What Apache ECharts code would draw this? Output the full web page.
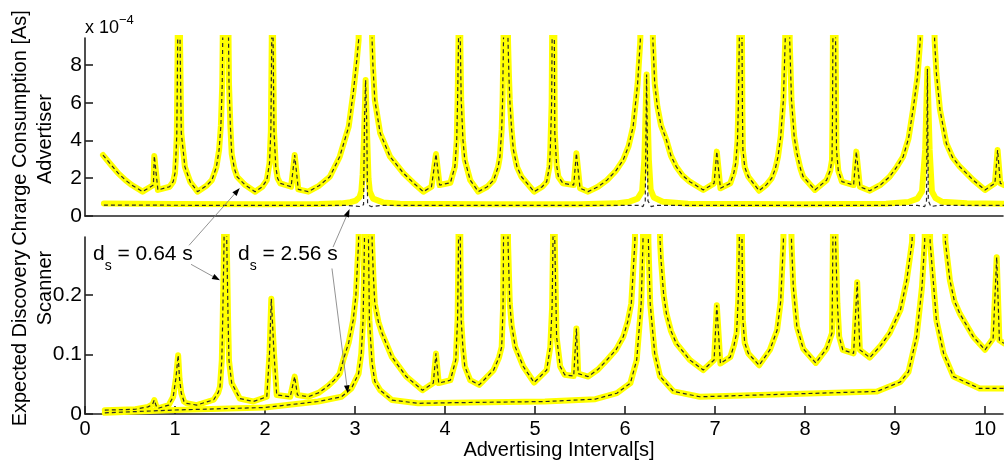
<!DOCTYPE html>
<html><head><meta charset="utf-8">
<script src="https://cdn.jsdelivr.net/npm/echarts@6/dist/echarts.min.js"></script>
<style>html,body{margin:0;padding:0;background:#fff}#c{width:1004px;height:460px}</style>
</head><body><div id="c"></div>
<script>
// ---- tick labels ----
const xTicks = [0,1,2,3,4,5,6,7,8,9,10];
const advYTicks = [0,2,4,6,8];          // units of 1e-4 As
const scanYTicks = [0,0.1,0.2];

// ---- Advertiser charge consumption (x: advertising interval [s], y: 1e-4 As) ----
const adv064 = [[0.20,3.23],[0.30,2.65],[0.37,2.26],[0.45,1.9],[0.52,1.64],[0.64,1.29],[0.76,1.64],[0.77,3.18],[0.81,1.38],[0.94,1.55],[0.98,1.82],[1.00,2.27],[1.01,3.14],[1.02,4.3],[1.03,9.3],[1.042,30],[1.056,9.3],[1.07,4.4],[1.11,2.6],[1.17,1.8],[1.25,1.29],[1.35,1.6],[1.41,1.9],[1.46,2.6],[1.49,3.5],[1.51,4.8],[1.525,7.0],[1.53,9.3],[1.5625,40],[1.595,9.3],[1.60,7.0],[1.615,4.8],[1.63,3.3],[1.66,2.5],[1.69,2.08],[1.78,1.64],[1.89,1.29],[1.97,1.55],[2.02,1.9],[2.05,2.8],[2.065,4.5],[2.075,9.3],[2.083,30],[2.09,9.3],[2.10,4.5],[2.12,2.6],[2.14,2.0],[2.17,1.73],[2.29,1.55],[2.33,3.23],[2.37,1.41],[2.48,1.29],[2.60,1.6],[2.72,2.08],[2.83,3.14],[2.93,4.73],[2.98,6.5],[3.02,8.26],[3.04,9.3],[3.125,60],[3.19,9.3],[3.20,7.9],[3.22,6.15],[3.28,4.38],[3.39,3.14],[3.54,2.26],[3.65,1.75],[3.76,1.29],[3.85,1.55],[3.90,3.28],[3.94,1.64],[4.06,1.76],[4.11,2.61],[4.13,4.0],[4.14,6.15],[4.15,9.3],[4.167,30],[4.17,9.3],[4.18,6.15],[4.20,4.0],[4.22,2.97],[4.28,1.9],[4.37,1.29],[4.47,1.55],[4.54,1.9],[4.59,2.6],[4.61,3.14],[4.63,4.6],[4.64,6.15],[4.65,9.3],[4.6875,40],[4.70,9.3],[4.71,7.5],[4.72,6.15],[4.74,4.6],[4.76,3.5],[4.80,2.6],[4.85,2.08],[4.99,1.29],[5.08,1.55],[5.13,1.82],[5.16,2.6],[5.17,3.5],[5.185,6.0],[5.19,9.3],[5.208,30],[5.215,9.3],[5.22,4.4],[5.24,2.7],[5.26,2.08],[5.31,1.73],[5.43,1.64],[5.46,3.32],[5.50,1.47],[5.59,1.29],[5.70,1.55],[5.80,1.9],[5.90,2.4],[5.98,2.97],[6.04,3.7],[6.09,4.73],[6.14,7.0],[6.17,9.3],[6.25,60],[6.31,9.3],[6.33,7.03],[6.36,5.8],[6.40,4.8],[6.46,4.03],[6.51,3.2],[6.57,2.61],[6.64,2.15],[6.72,1.82],[6.87,1.38],[6.99,1.73],[7.02,3.41],[7.06,1.47],[7.17,1.73],[7.21,2.3],[7.23,2.79],[7.25,4.0],[7.26,6.0],[7.27,9.3],[7.29,30],[7.30,9.3],[7.305,5.5],[7.31,3.5],[7.33,2.6],[7.37,2.08],[7.49,1.34],[7.57,1.65],[7.63,2.0],[7.67,2.5],[7.70,3.14],[7.73,4.2],[7.76,6.15],[7.78,9.3],[7.8125,40],[7.83,9.3],[7.85,6.15],[7.88,4.2],[7.91,3.32],[7.95,2.5],[7.98,2.08],[8.11,1.38],[8.24,1.9],[8.28,2.4],[8.30,2.97],[8.305,5.0],[8.31,9.3],[8.333,30],[8.34,9.3],[8.35,3.5],[8.37,2.4],[8.41,1.82],[8.54,1.64],[8.57,3.41],[8.61,1.55],[8.72,1.34],[8.84,1.65],[8.94,2.08],[9.02,2.6],[9.09,3.14],[9.15,4.1],[9.20,5.62],[9.25,7.38],[9.28,9.3],[9.375,60],[9.44,9.3],[9.46,7.56],[9.50,5.62],[9.57,3.85],[9.64,3.1],[9.72,2.61],[9.87,1.9],[10.0,1.38],[10.11,1.73],[10.14,3.5],[10.17,1.73],[10.21,1.64]];
const adv256 = [[0.21,0.66],[1.0,0.64],[2.0,0.62],[2.6,0.63],[2.85,0.67],[2.95,0.73],[3.01,0.82],[3.05,1.0],[3.07,1.3],[3.085,2.2],[3.1,4.2],[3.118,7.2],[3.135,4.2],[3.15,2.0],[3.165,1.3],[3.2,0.92],[3.31,0.72],[3.5,0.65],[4.5,0.62],[5.5,0.62],[5.9,0.67],[6.05,0.76],[6.14,0.92],[6.19,1.3],[6.215,3.0],[6.24,7.5],[6.265,3.0],[6.285,1.4],[6.32,0.98],[6.42,0.76],[6.7,0.65],[8.0,0.62],[8.9,0.65],[9.15,0.74],[9.25,0.92],[9.3,1.3],[9.335,3.5],[9.36,7.8],[9.385,3.5],[9.41,1.3],[9.45,0.95],[9.52,0.76],[9.8,0.67],[10.21,0.65]];
const adv256Model = [[0.21,0.58],[1.0,0.57],[2.0,0.56],[2.9,0.56],[3.06,0.5],[3.095,0.6],[3.105,5.0],[3.118,7.2],[3.13,5.0],[3.14,0.6],[3.18,0.5],[3.3,0.56],[5.0,0.56],[6.15,0.56],[6.2,0.5],[6.225,0.8],[6.24,7.5],[6.255,0.8],[6.29,0.5],[6.35,0.56],[9.25,0.56],[9.33,0.5],[9.35,0.8],[9.36,7.8],[9.37,0.8],[9.4,0.5],[9.47,0.56],[10.21,0.56]];

// ---- Scanner expected discovery charge (x: advertising interval [s], y: As) ----
const scan064 = [[0.22,0.0065],[0.56,0.008],[0.70,0.012],[0.75,0.016],[0.77,0.0235],[0.79,0.014],[0.81,0.0095],[0.93,0.015],[0.98,0.029],[1.01,0.06],[1.035,0.099],[1.05,0.06],[1.07,0.035],[1.10,0.021],[1.13,0.018],[1.24,0.015],[1.43,0.024],[1.48,0.036],[1.50,0.046],[1.52,0.09],[1.53,0.158],[1.545,0.29],[1.5625,1.2],[1.575,0.29],[1.59,0.158],[1.60,0.09],[1.63,0.052],[1.72,0.026],[1.87,0.021],[2.02,0.029],[2.05,0.102],[2.07,0.194],[2.10,0.102],[2.13,0.032],[2.28,0.029],[2.33,0.063],[2.36,0.032],[2.48,0.029],[2.60,0.036],[2.69,0.046],[2.77,0.057],[2.83,0.068],[2.87,0.091],[2.93,0.12],[2.98,0.158],[3.01,0.2],[3.04,0.29],[3.125,2.0],[3.19,0.29],[3.205,0.23],[3.22,0.186],[3.26,0.155],[3.30,0.136],[3.41,0.096],[3.57,0.063],[3.75,0.040],[3.87,0.052],[3.90,0.102],[3.93,0.052],[4.06,0.057],[4.12,0.091],[4.14,0.16],[4.15,0.29],[4.167,1.0],[4.17,0.29],[4.18,0.158],[4.20,0.11],[4.22,0.080],[4.28,0.057],[4.38,0.049],[4.54,0.074],[4.60,0.095],[4.63,0.113],[4.645,0.18],[4.65,0.29],[4.6875,1.5],[4.70,0.29],[4.72,0.186],[4.74,0.15],[4.78,0.113],[4.87,0.080],[4.99,0.053],[5.13,0.074],[5.17,0.113],[5.19,0.18],[5.20,0.29],[5.208,1.0],[5.22,0.29],[5.24,0.130],[5.28,0.080],[5.33,0.066],[5.43,0.064],[5.46,0.144],[5.48,0.068],[5.59,0.063],[5.70,0.075],[5.80,0.091],[5.90,0.108],[5.98,0.130],[6.03,0.155],[6.07,0.186],[6.11,0.29],[6.25,2.0],[6.39,0.29],[6.40,0.26],[6.43,0.2],[6.46,0.169],[6.51,0.14],[6.57,0.119],[6.72,0.091],[6.87,0.074],[6.99,0.091],[7.02,0.183],[7.06,0.085],[7.17,0.096],[7.21,0.115],[7.24,0.136],[7.26,0.2],[7.27,0.29],[7.29,1.0],[7.30,0.29],[7.31,0.158],[7.33,0.12],[7.37,0.102],[7.49,0.082],[7.61,0.108],[7.69,0.141],[7.73,0.19],[7.76,0.29],[7.8125,1.5],[7.85,0.29],[7.87,0.214],[7.91,0.147],[7.98,0.110],[8.12,0.086],[8.24,0.110],[8.30,0.136],[8.31,0.29],[8.333,1.0],[8.34,0.29],[8.36,0.186],[8.38,0.13],[8.42,0.108],[8.54,0.102],[8.58,0.222],[8.61,0.108],[8.72,0.095],[8.84,0.115],[8.94,0.136],[9.06,0.175],[9.13,0.225],[9.19,0.29],[9.375,2.0],[9.56,0.29],[9.61,0.225],[9.66,0.19],[9.72,0.169],[9.87,0.130],[10.0,0.108],[10.09,0.127],[10.13,0.264],[10.16,0.124],[10.21,0.119]];
const scan256 = [[0.22,0.002],[1.0,0.0067],[2.0,0.011],[2.59,0.021],[2.85,0.029],[2.96,0.043],[3.04,0.068],[3.07,0.102],[3.09,0.158],[3.105,0.29],[3.13,1.5],[3.15,0.29],[3.16,0.158],[3.19,0.085],[3.22,0.055],[3.28,0.040],[3.41,0.0235],[3.7,0.018],[4.07,0.019],[5.11,0.021],[5.67,0.025],[5.91,0.035],[6.06,0.052],[6.13,0.091],[6.18,0.186],[6.20,0.29],[6.23,1.5],[6.26,0.29],[6.28,0.186],[6.33,0.102],[6.39,0.063],[6.54,0.038],[6.83,0.029],[8.80,0.038],[9.06,0.054],[9.15,0.071],[9.24,0.130],[9.30,0.214],[9.33,0.29],[9.36,1.5],[9.39,0.29],[9.46,0.158],[9.54,0.102],[9.65,0.063],[9.94,0.043],[10.21,0.043]];

const FONT = '"Liberation Sans", Arial, Helvetica, sans-serif';
const YEL = '#ffff00', DASH = '#2a2a2a';

function pair(simData, modelData, gi) {
  return [
    {type:'line', xAxisIndex:gi, yAxisIndex:gi, data:simData, showSymbol:false, symbol:'none', silent:true,
     lineStyle:{color:YEL, width:6, join:'round', cap:'round'}, z:2},
    {type:'line', xAxisIndex:gi, yAxisIndex:gi, data:modelData, showSymbol:false, symbol:'none', silent:true,
     lineStyle:{color:DASH, width:1.2, type:[4,3]}, z:3}
  ];
}

const axisLineStyle = {color:'#222', width:1.6};
const labelStyle = {color:'#000', fontSize:20, fontFamily:FONT};

const chart = echarts.init(document.getElementById('c'), null, {renderer:'canvas'});
chart.setOption({
  animation:false,
  backgroundColor:'#fff',
  grid:[
    {left:85, top:38, width:918, height:178},
    {left:85, top:237, width:918, height:177}
  ],
  xAxis:[
    {type:'value', gridIndex:0, min:0, max:10.2, axisLine:{show:true, lineStyle:axisLineStyle},
     axisTick:{show:false}, axisLabel:{show:false}, splitLine:{show:false}},
    {type:'value', gridIndex:1, min:0, max:10.2, axisLine:{show:true, lineStyle:axisLineStyle},
     axisTick:{show:true, inside:true, length:8, lineStyle:axisLineStyle, customValues:xTicks},
     axisLabel:Object.assign({margin:5, customValues:xTicks}, labelStyle), splitLine:{show:false}}
  ],
  yAxis:[
    {type:'value', gridIndex:0, min:0, max:9.43, axisLine:{show:true, lineStyle:axisLineStyle},
     axisTick:{show:true, inside:true, length:8, lineStyle:axisLineStyle, customValues:advYTicks},
     axisLabel:Object.assign({margin:3, customValues:advYTicks}, labelStyle, {fontSize:21}), splitLine:{show:false}},
    {type:'value', gridIndex:1, min:0, max:0.298, axisLine:{show:true, lineStyle:axisLineStyle},
     axisTick:{show:true, inside:true, length:8, lineStyle:axisLineStyle, customValues:scanYTicks},
     axisLabel:Object.assign({margin:3, customValues:scanYTicks}, labelStyle, {fontSize:21}), splitLine:{show:false}}
  ],
  series:[].concat(pair(adv064, adv064, 0), pair(adv256, adv256Model, 0),
                   pair(scan064, scan064, 1), pair(scan256, scan256, 1))
});

// ---- annotations (anchors in data coordinates of each panel) ----
function px(g, p){ return chart.convertToPixel({gridIndex:g}, p); }
const notes = [
  {txt:'0.64', at:[1,[0.089,0.266]], arrows:[[[1,[1.156,0.284]],[0,[1.72,1.48]]],[[1,[1.178,0.252]],[1,[1.50,0.225]]]]},
  {txt:'2.56', at:[1,[1.70,0.266]], arrows:[[[1,[2.756,0.281]],[0,[2.94,0.37]]],[[1,[2.744,0.245]],[1,[2.92,0.035]]]]}
];
const g = [];
notes.forEach(n => {
  const p = px(n.at[0], n.at[1]);
  g.push({type:'text', x:p[0], y:p[1]-12, z:10, style:{
    text:'{m|d}{sub|s}{m| = '+n.txt+' s}', fill:'#000', align:'left', verticalAlign:'top',
    rich:{m:{fontSize:21, fontFamily:FONT, lineHeight:24, verticalAlign:'top', fill:'#000'},
          sub:{fontSize:14, fontFamily:FONT, lineHeight:16, verticalAlign:'top', padding:[15,0,0,0], fill:'#000'}}}});
  n.arrows.forEach(a => {
    const s = px(a[0][0], a[0][1]), e = px(a[1][0], a[1][1]);
    const dx = e[0]-s[0], dy = e[1]-s[1], L = Math.hypot(dx,dy), ux = dx/L, uy = dy/L;
    const hl = 8, hw = 2.8;
    const bx = e[0]-ux*hl, by = e[1]-uy*hl;
    g.push({type:'line', z:10, shape:{x1:s[0], y1:s[1], x2:bx, y2:by}, style:{stroke:'#777', lineWidth:0.8}});
    g.push({type:'polygon', z:10, shape:{points:[[e[0],e[1]],[bx-uy*hw,by+ux*hw],[bx+uy*hw,by-ux*hw]]}, style:{fill:'#000'}});
  });
});
// exponent label and axis titles
g.push({type:'text', x:85, y:14, z:10, style:{text:'{m|x 10}{sup|\u22124}', align:'left', verticalAlign:'top',
  rich:{m:{fontSize:18, fontFamily:FONT, lineHeight:20, padding:[5,0,0,0], verticalAlign:'top', fill:'#000'},
        sup:{fontSize:13, fontFamily:FONT, lineHeight:14, verticalAlign:'top', fill:'#000'}}}});
g.push({type:'text', x:20, y:128, rotation:Math.PI/2, z:10, style:{text:'Chrarge Consumption [As]', fontSize:20, fontFamily:FONT, fill:'#000', align:'center', verticalAlign:'middle'}});
g.push({type:'text', x:45, y:139, rotation:Math.PI/2, z:10, style:{text:'Advertiser', fontSize:20, fontFamily:FONT, fill:'#000', align:'center', verticalAlign:'middle'}});
g.push({type:'text', x:20, y:338, rotation:Math.PI/2, z:10, style:{text:'Expected Discovery', fontSize:20, fontFamily:FONT, fill:'#000', align:'center', verticalAlign:'middle'}});
g.push({type:'text', x:45, y:288, rotation:Math.PI/2, z:10, style:{text:'Scanner', fontSize:20, fontFamily:FONT, fill:'#000', align:'center', verticalAlign:'middle'}});
g.push({type:'text', x:559, y:450, z:10, style:{text:'Advertising Interval[s]', fontSize:20, fontFamily:FONT, fill:'#000', align:'center', verticalAlign:'middle'}});
chart.setOption({graphic:g});
</script></body></html>
